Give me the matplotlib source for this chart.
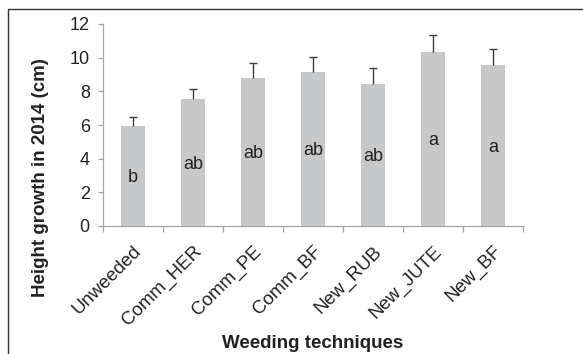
import matplotlib
matplotlib.use("Agg")
import matplotlib.pyplot as plt
from matplotlib.patches import Rectangle
from matplotlib.transforms import ScaledTranslation

plt.rcParams["font.family"] = ["Liberation Sans", "DejaVu Sans"]

# Data
techniques = ["Unweeded", "Comm_HER", "Comm_PE", "Comm_BF", "New_RUB", "New_JUTE", "New_BF"]
growth = [5.95, 7.56, 8.81, 9.15, 8.46, 10.32, 9.55]
growth_err = [0.55, 0.58, 0.89, 0.91, 0.91, 1.05, 0.98]
letters = ["b", "ab", "ab", "ab", "ab", "a", "a"]
y_ticks = [0, 2, 4, 6, 8, 10, 12]

W, H = 583, 354
fig = plt.figure(figsize=(W / 100, H / 100), dpi=100)
ax = fig.add_axes([103 / W, 1 - 226 / H, 420 / W, 202 / H])

x = range(len(techniques))
ax.bar(x, growth, width=0.4, color="#c7c8ca", zorder=2)
_, caps, _ = ax.errorbar(x, growth, yerr=[[0] * len(growth), growth_err], fmt="none",
                         ecolor="#3f3f3f", elinewidth=1.0, capsize=3, capthick=1.0,
                         zorder=3)
caps[0].set_visible(False)  # only the upper cap

# significance letters in the middle of each bar
for i, (v, lab) in enumerate(zip(growth, letters)):
    ax.text(i, v / 2 - 0.1, lab, ha="center", va="center", fontsize=13,
            color="#222222", zorder=4)

ax.set_xlim(-0.5, len(techniques) - 0.5)
ax.set_ylim(0, 12)
ax.set_yticks(y_ticks)
ax.set_xticks(list(x))
ax.set_xticklabels(techniques, rotation=45, ha="right", va="top",
                   rotation_mode="anchor", fontsize=13.5, color="#222222")
shift = ScaledTranslation(6 / 100, 0, fig.dpi_scale_trans)
for lbl in ax.get_xticklabels():
    lbl.set_transform(lbl.get_transform() + shift)
ax.set_xticks([i + 0.5 for i in range(-1, len(techniques))], minor=True)
ax.tick_params(axis="x", which="major", length=0, pad=12)
ax.tick_params(axis="x", which="minor", length=4.5, color="#a6a6a6", width=0.9)
ax.tick_params(axis="y", length=3.5, color="#a6a6a6", width=0.9,
               labelsize=13, labelcolor="#222222", pad=6)

for side in ["top", "right"]:
    ax.spines[side].set_visible(False)
for side in ["left", "bottom"]:
    ax.spines[side].set_color("#a6a6a6")
    ax.spines[side].set_linewidth(0.9)

fig.text(41 / W, 1 - 178 / H, "Height growth in 2014 (cm)", rotation=90,
         ha="center", va="center", fontsize=13.5, fontweight="bold", color="#222222")
fig.text(313 / W, 1 - 343 / H, "Weeding techniques", ha="center", va="center",
         fontsize=13.5, fontweight="bold", color="#222222")

# outer chart frame, cut at right and bottom edges
frame = Rectangle((8 / W, -0.2), 1.2, 1.2 - 9 / H, transform=fig.transFigure,
                  fill=False, edgecolor="#333333", linewidth=1.0, clip_on=False)
fig.patches.append(frame)

fig.savefig("out.png", dpi=100)
